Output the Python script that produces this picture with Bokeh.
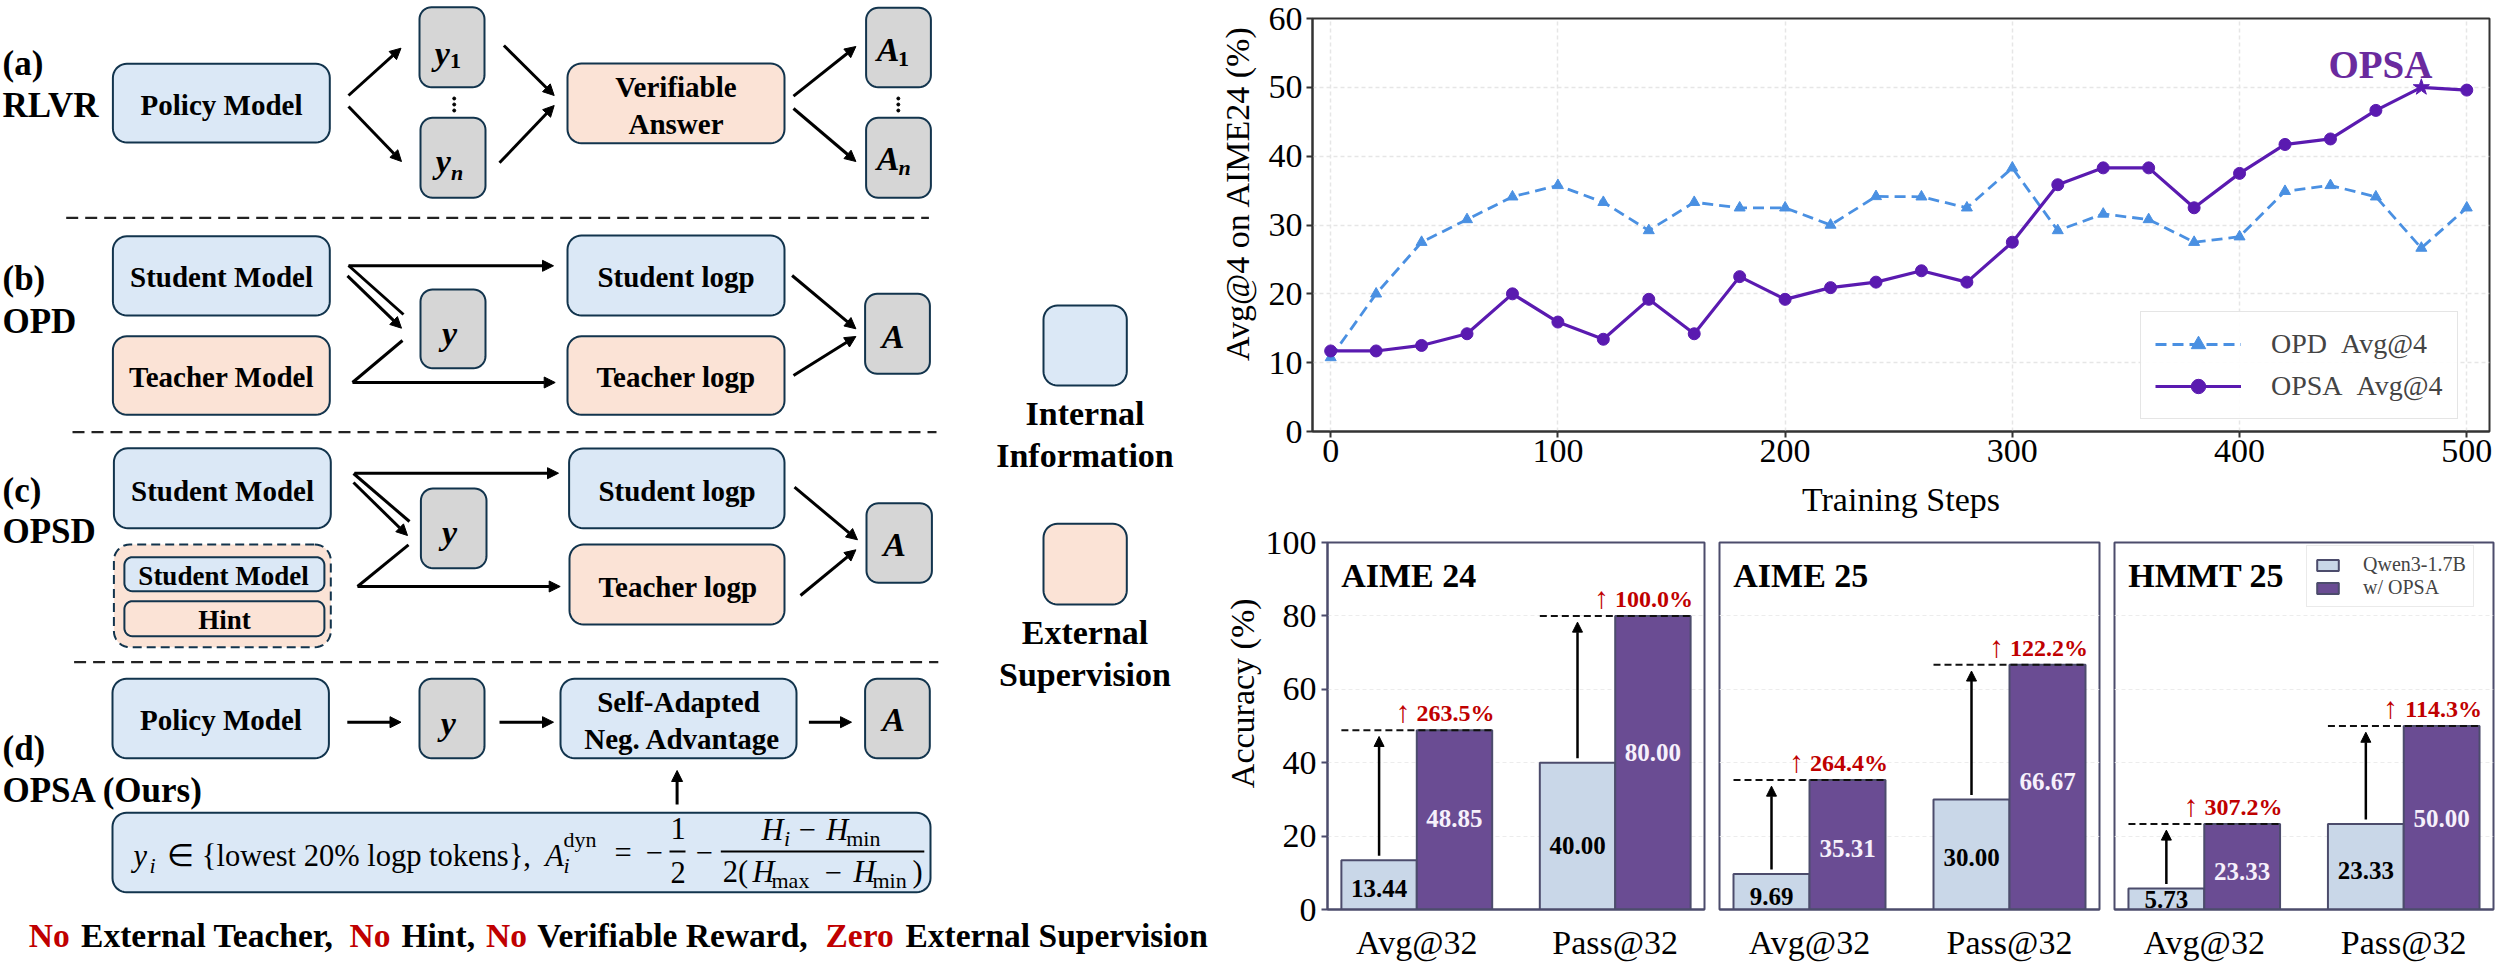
import math

import numpy as np
from bokeh.embed import file_html
from bokeh.layouts import column, row
from bokeh.models import Arrow, FixedTicker, Legend, LegendItem, NormalHead, Range1d
from bokeh.plotting import figure
from bokeh.resources import INLINE

# ---------- chart data ----------
steps = [0, 20, 40, 60, 80, 100, 120, 140, 160, 180, 200, 220, 240, 260, 280, 300,
         320, 340, 360, 380, 400, 420, 440, 460, 480, 500]
opd_avg4 = [10.75, 20.0, 27.5, 30.8, 34.1, 35.75, 33.3, 29.2, 33.3, 32.5, 32.5, 30.0, 34.15,
            34.1, 32.5, 38.3, 29.2, 31.6, 30.8, 27.5, 28.3, 34.9, 35.75, 34.1, 26.65, 32.5]
opsa_avg4 = [11.7, 11.7, 12.5, 14.2, 20.0, 15.9, 13.4, 19.2, 14.2, 22.5, 19.2, 20.9, 21.7,
             23.35, 21.7, 27.5, 35.85, 38.3, 38.3, 32.5, 37.5, 41.7, 42.5, 46.65, 50.0, 49.6]
opsa_markers = ["circle"] * 24 + ["star", "circle"]

metrics = ["Avg@32", "Pass@32"]
panel_titles = ["AIME 24", "AIME 25", "HMMT 25"]
qwen_values = [[13.44, 40.00], [9.69, 30.00], [5.73, 23.33]]
opsa_values = [[48.85, 80.00], [35.31, 66.67], [23.33, 50.00]]
gains = [["263.5%", "100.0%"], ["264.4%", "122.2%"], ["307.2%", "114.3%"]]
qwen_label_y = [[5.7, 17.4], [3.6, 14.3], [2.8, 10.65]]
opsa_label_y = [[24.8, 42.7], [16.5, 35.0], [10.4, 24.8]]

# ---------- styles ----------
SERIF = "Liberation Serif"
BLUE, PEACH, GREY = "#dbe8f6", "#fbe3d6", "#d6d6d6"
EDGE = "#12344d"
RED = "#c00000"
OPD_C, OPSA_C = "#4a90e2", "#5a1ab0"
BAR_L, BAR_D, BAR_E = "#c9d7e8", "#6a4c93", "#4c4c6c"

# ---------- diagram geometry (page pixels) ----------
boxes = [
    (112.4, 329.3, 63.3, 142, BLUE, 14), (419, 484, 6.7, 86.7, GREY, 12), (420, 485, 117.3, 197.3, GREY, 12),
    (567, 784, 63, 142.7, PEACH, 14), (865.6, 930.4, 7.3, 86.7, GREY, 12), (865.6, 930.4, 117.3, 197.3, GREY, 12),
    (112.4, 329.3, 235.7, 315, BLUE, 14), (112.4, 329.3, 335.7, 414.3, PEACH, 14), (420, 485, 289, 367.7, GREY, 12),
    (567, 784, 235, 315, BLUE, 14), (567, 784, 335.7, 414.3, PEACH, 14), (864.6, 929.4, 293.3, 373.3, GREY, 12),
    (113.4, 330.3, 447.7, 527.7, BLUE, 14), (420.4, 486, 488, 567.7, GREY, 12),
    (568.6, 784, 448, 527.7, BLUE, 14), (569, 784, 544, 624, PEACH, 14), (866, 931.4, 502.7, 582.3, GREY, 12),
    (123.9, 323.9, 556.7, 590.7, BLUE, 8), (123.9, 323.9, 600.7, 635.7, PEACH, 8),
    (112, 328.4, 678.3, 757.7, BLUE, 14), (419, 484, 678.3, 757.7, GREY, 12), (560, 796, 678.3, 757.7, BLUE, 14),
    (864.6, 929.3, 678.3, 757.7, GREY, 12), (112, 930, 812.3, 891.7, BLUE, 14),
    (1043, 1126.3, 305, 385, BLUE, 14), (1043, 1126.3, 523.3, 604, PEACH, 14),
]
container = (113.4, 330.3, 544, 646.7, PEACH, 16)
dividers = [(65.7, 928.4, 217.3), (72, 936, 431.7), (73.6, 937.8, 661.7)]
arrows = [
    (348, 95, 400.5, 47.7), (348, 106, 401, 161), (503.4, 45, 553.7, 95), (499, 162.3, 553.7, 105),
    (793, 95.7, 855.4, 46), (793, 108, 855.4, 161),
    (348, 265.3, 553, 265.3), (347, 275.3, 401, 327.7), (352, 382, 554.7, 382),
    (791.6, 275, 855.4, 328.3), (793, 375, 855.4, 336),
    (354, 472.7, 558, 472.7), (353, 482, 407, 535), (357, 586, 559.7, 586),
    (794, 486.7, 857, 539.3), (800, 595, 855.4, 549.3),
    (346.8, 721.7, 400.5, 721.7), (499, 721.7, 553, 721.7), (808.4, 721.7, 851, 721.7), (676.6, 804, 676.6, 770),
]
plain_lines = [(348, 265, 403, 314), (352, 382, 402, 340), (353, 473, 409, 521), (357, 586, 408, 544.3),
               (669, 851, 685, 851), (720.3, 851, 923.8, 851)]
vdots = [(453.7, 98), (453.7, 104), (453.7, 110), (897.8, 98), (897.8, 104), (897.8, 110)]

box_labels = [
    ("Policy Model", 221, 104), ("Verifiable", 675.5, 86), ("Answer", 675.5, 123),
    ("Student Model", 221, 276.7), ("Teacher Model", 221, 376.7), ("Student logp", 675.5, 276.7), ("Teacher logp", 675.5, 376.7),
    ("Student Model", 222, 490), ("Student logp", 676.5, 490), ("Teacher logp", 677.5, 586),
    ("Policy Model", 220.4, 719.3), ("Self-Adapted", 678, 701.7), ("Neg. Advantage", 682, 738.3),
]
small_labels = [("Student Model", 223, 575), ("Hint", 224, 619)]
row_labels = [
    ("(a)", 63), ("RLVR", 105), ("(b)", 278), ("OPD", 320.7), ("(c)", 490), ("OPSD", 530.7), ("(d)", 747.7), ("OPSA (Ours)", 790),
]
key_labels = [("Internal", 413.3), ("Information", 455), ("External", 631.7), ("Supervision", 674)]
var_labels = [("y", 441.8, 52.7), ("y", 442.8, 161), ("y", 449, 332.7), ("y", 449, 531.7), ("y", 447.7, 722.7),
              ("A", 887.5, 49.3), ("A", 887.5, 158.3), ("A", 892.6, 336), ("A", 894, 544.3), ("A", 893, 719)]
var_subs = [("1", 455, 60, "bold"), ("n", 456.7, 172, "bold italic"), ("1", 903, 58, "bold"), ("n", 904, 167, "bold italic")]
bottom_line = [("No", 28.3, RED), ("External Teacher,", 80.6, "black"), ("No", 349, RED), ("Hint,", 401, "black"), ("No", 485.5, RED),
               ("Verifiable Reward,", 536.8, "black"), ("Zero", 825, RED), ("External Supervision", 905, "black")]
formula_big = [("y", 133, 855, "italic"), ("A", 544.8, 855, "italic"), ("H", 761, 829, "italic"), ("H", 825.8, 829, "italic"),
               ("H", 752, 871.7, "italic"), ("H", 853, 871.7, "italic"), ("2(", 722.3, 871.7, "normal"), (")", 912, 871.7, "normal"),
               ("\u2208 {lowest 20% logp tokens},", 166.7, 855, "normal"), ("1", 670, 828, "normal"), ("2", 670, 871.7, "normal"),
               ("=", 614, 852, "normal"), ("\u2212", 645, 852, "normal"), ("\u2212", 695, 852, "normal"),
               ("\u2212", 798, 829, "normal"), ("\u2212", 824, 871.7, "normal")]
formula_sub = [("i", 149, 865, "italic"), ("i", 563, 865, "italic"), ("dyn", 563, 839, "normal"), ("i", 783.5, 838, "italic"),
               ("min", 845.7, 838, "normal"), ("max", 771, 880, "normal"), ("min", 872, 880, "normal")]


def rounded(x0, x1, y0, y1, r):
    t = np.linspace(0, np.pi / 2, 10)
    xs = np.concatenate([x1 - r + r * np.sin(t), x1 - r + r * np.cos(t), x0 + r - r * np.sin(t), x0 + r - r * np.cos(t)])
    ys = np.concatenate([y0 + r - r * np.cos(t), y1 - r + r * np.sin(t), y1 - r + r * np.cos(t), y0 + r - r * np.sin(t)])
    return xs, ys


def draw_arrow(p, x0, y0, x1, y1, width=3.0, size=11):
    head = NormalHead(size=size, fill_color="black", line_color="black", line_width=1)
    p.add_layout(Arrow(end=head, x_start=x0, y_start=y0, x_end=x1, y_end=y1, line_color="black", line_width=width))


def title_strip(text, width, height, x, y):
    s = figure(width=width, height=height, x_range=Range1d(0, width), y_range=Range1d(height, 0), x_axis_type=None, y_axis_type=None,
               output_backend="svg", toolbar_location=None, min_border=0, outline_line_color=None)
    s.grid.visible = False
    s.text([x], [y], text=[text], angle=math.pi / 2, text_font=SERIF, text_font_size="34px", text_color="black",
           text_align="center", text_baseline="middle")
    return s


# ---------- diagram ----------
diagram = figure(width=1217, height=963, x_range=Range1d(0, 1217), y_range=Range1d(963, 0), x_axis_type=None, y_axis_type=None,
                 output_backend="svg", toolbar_location=None, min_border=0, outline_line_color=None)
diagram.grid.visible = False
cx0, cx1, cy0, cy1, cfill, cr = container
xs, ys = rounded(cx0, cx1, cy0, cy1, cr)
diagram.patch(xs, ys, fill_color=cfill, line_color=EDGE, line_width=2, line_dash=[9, 5])
for x0, x1, y0, y1, fill, r in boxes:
    xs, ys = rounded(x0, x1, y0, y1, r)
    diagram.patch(xs, ys, fill_color=fill, line_color=EDGE, line_width=2)
for x0, x1, y in dividers:
    diagram.line([x0, x1], [y, y], line_color="#222222", line_width=2.2, line_dash=[12, 7])
for a in arrows:
    draw_arrow(diagram, *a)
for x0, y0, x1, y1 in plain_lines[:4]:
    diagram.line([x0, x1], [y0, y1], line_color="black", line_width=3)
for x0, y0, x1, y1 in plain_lines[4:]:
    diagram.line([x0, x1], [y0, y1], line_color="black", line_width=2)
diagram.scatter([v[0] for v in vdots], [v[1] for v in vdots], size=3, color="black")


def put(p, items, size, style="bold", align="center", color="black"):
    p.text([i[1] for i in items], [i[2] for i in items], text=[i[0] for i in items], text_font=SERIF, text_font_size=size,
           text_font_style=style, text_align=align, text_baseline="middle", text_color=color)


put(diagram, box_labels, "29px")
put(diagram, small_labels, "27px")
put(diagram, [(t, 2, y) for t, y in row_labels], "35px", align="left")
put(diagram, [(t, 1084.5, y) for t, y in key_labels], "34px")
put(diagram, var_labels, "34px", style="bold italic")
for t, x, y, st in var_subs:
    put(diagram, [(t, x, y)], "22px", style=st)
for t, x, c in bottom_line:
    put(diagram, [(t, x, 935)], "33.5px", align="left", color=c)
for t, x, y, st in formula_big:
    put(diagram, [(t, x, y)], "30.5px", style=st, align="left")
for t, x, y, st in formula_sub:
    put(diagram, [(t, x, y)], "22px", style=st, align="left")

# ---------- line chart ----------
line_fig = figure(width=1249, height=520, x_range=Range1d(-8, 510), y_range=Range1d(0, 60), output_backend="svg", toolbar_location=None,
                  min_border_left=54, min_border_right=18, min_border_top=18, min_border_bottom=89,
                  x_axis_label="Training Steps",
                  outline_line_color="#333333", outline_line_width=2)
for ax in (line_fig.xaxis[0], line_fig.yaxis[0]):
    ax.major_label_text_font = SERIF
    ax.major_label_text_font_size = "34px"
    ax.axis_label_text_font = SERIF
    ax.axis_label_text_font_size = "34px"
    ax.axis_label_text_font_style = "normal"
    ax.axis_line_color = "#333333"
    ax.axis_line_width = 2
    ax.major_tick_line_color = "#333333"
    ax.major_tick_line_width = 2
    ax.major_tick_out = 6
    ax.major_tick_in = 0
    ax.minor_tick_line_color = None
    ax.major_label_text_color = "black"
    ax.axis_label_text_color = "black"
line_fig.xaxis.ticker = FixedTicker(ticks=[0, 100, 200, 300, 400, 500])
line_fig.yaxis.ticker = FixedTicker(ticks=[0, 10, 20, 30, 40, 50, 60])
line_fig.xaxis.major_label_standoff = 2
line_fig.xaxis.axis_label_standoff = 16
line_fig.yaxis.major_label_standoff = 4
line_fig.grid.grid_line_color = "#e6e6e6"
line_fig.grid.grid_line_dash = [4, 3]
line_fig.grid.grid_line_width = 1.5
opd_l = line_fig.line(steps, opd_avg4, line_color=OPD_C, line_width=2.8, line_dash=[11, 6])
opd_s = line_fig.scatter(steps, opd_avg4, marker="triangle", size=11, color=OPD_C)
opsa_l = line_fig.line(steps, opsa_avg4, line_color=OPSA_C, line_width=3.2)
opsa_s = line_fig.scatter(steps, opsa_avg4, marker=opsa_markers, size=[17 if m == "star" else 12 for m in opsa_markers], color=OPSA_C)
line_fig.text([462], [53.3], text=["OPSA"], text_font=SERIF, text_font_size="39px", text_font_style="bold", text_color="#6a2a9e",
              text_align="center", text_baseline="middle")
line_fig.add_layout(Legend(
    items=[LegendItem(label="OPD\u00a0\u00a0Avg@4", renderers=[opd_l, opd_s]), LegendItem(label="OPSA\u00a0\u00a0Avg@4", renderers=[opsa_l, opsa_s])],
    location=(828, 12), margin=0, padding=14, spacing=6, glyph_width=86, glyph_height=36, label_standoff=30,
    label_text_font=SERIF, label_text_font_size="28px", border_line_color="#cccccc", border_line_width=1.5,
    background_fill_alpha=0.9, label_height=36))


# ---------- bar panels ----------
def bar_panel(i, width, left, right):
    p = figure(width=width, height=443, x_range=Range1d(-0.45, 1.45), y_range=Range1d(0, 100), output_backend="svg", toolbar_location=None,
               min_border_left=left, min_border_right=right, min_border_top=22, min_border_bottom=52,
               outline_line_color=BAR_E, outline_line_width=2)
    p.xgrid.visible = False
    p.ygrid.ticker = FixedTicker(ticks=[20, 40, 60, 80])
    p.ygrid.grid_line_color = "#ececec"
    p.ygrid.grid_line_dash = [4, 3]
    p.ygrid.grid_line_width = 1.2
    xa = p.xaxis[0]
    xa.ticker = FixedTicker(ticks=[0, 1])
    xa.major_label_overrides = {0: metrics[0], 1: metrics[1]}
    xa.major_label_text_font = SERIF
    xa.major_label_text_font_size = "34px"
    xa.major_label_text_color = "black"
    xa.major_label_standoff = 8
    xa.major_tick_line_color = None
    xa.minor_tick_line_color = None
    xa.axis_line_color = BAR_E
    xa.axis_line_width = 2
    ya = p.yaxis[0]
    if i == 0:
        ya.ticker = FixedTicker(ticks=[0, 20, 40, 60, 80, 100])
        ya.major_label_text_font = SERIF
        ya.major_label_text_font_size = "34px"
        ya.major_label_text_color = "black"
        ya.major_label_standoff = 5
        ya.major_tick_out = 6
        ya.major_tick_in = 0
        ya.major_tick_line_color = BAR_E
        ya.major_tick_line_width = 2
        ya.minor_tick_line_color = None
        ya.axis_line_color = BAR_E
        ya.axis_line_width = 2
    else:
        ya.visible = False
    q = qwen_values[i]
    o = opsa_values[i]
    r1 = p.vbar([-0.19, 0.81], top=q, width=0.38, fill_color=BAR_L, line_color=BAR_E, line_width=2)
    r2 = p.vbar([0.19, 1.19], top=o, width=0.38, fill_color=BAR_D, line_color=BAR_E, line_width=2)
    for k in range(2):
        p.line([k - 0.38, k + 0.38], [o[k], o[k]], line_color="#111111", line_width=2, line_dash=[7, 4])
        draw_arrow(p, k - 0.19, q[k] + 1.2, k - 0.19, o[k] - 1.7, width=2.5, size=10)
    p.text([-0.19, 0.81], qwen_label_y[i], text=[f"{v:.2f}" for v in q], text_font=SERIF, text_font_size="25px", text_font_style="bold",
           text_align="center", text_baseline="middle", text_color="black")
    p.text([0.19, 1.19], opsa_label_y[i], text=[f"{v:.2f}" for v in o], text_font=SERIF, text_font_size="25px", text_font_style="bold",
           text_align="center", text_baseline="middle", text_color="#f6f0fb")
    p.text([0.392, 1.392], o, text=gains[i], text_font=SERIF, text_font_size="24px", text_font_style="bold",
           text_align="right", text_baseline="bottom", text_color=RED, y_offset=-4)
    p.text([0.392, 1.392], o, text=["\u2191", "\u2191"], text_font=SERIF, text_font_size="30px", text_font_style="normal",
           text_align="right", text_baseline="bottom", text_color=RED, y_offset=-2, x_offset=-84)
    p.text([-0.381], [91], text=[panel_titles[i]], text_font=SERIF, text_font_size="34px", text_font_style="bold",
           text_align="left", text_baseline="middle", text_color="black")
    if i == 2:
        p.add_layout(Legend(
            items=[LegendItem(label="Qwen3-1.7B", renderers=[r1]), LegendItem(label="w/ OPSA", renderers=[r2])],
            location=(192, 302), margin=0, padding=7, spacing=0, glyph_width=27, glyph_height=14, label_standoff=22,
            label_text_font=SERIF, label_text_font_size="20px", border_line_color="#d5d5d5", border_line_width=1.5, label_height=19))
    return p


b1 = bar_panel(0, 449, 63, 7)
b2 = bar_panel(1, 395, 8, 7)
b3 = bar_panel(2, 401, 8, 14)
strip_top = title_strip("Avg@4 on AIME24 (%)", 41, 520, 19.5, 220)
strip_bottom = title_strip("Accuracy (%)", 45, 443, 24.5, 182)

top_row = row(strip_top, line_fig, spacing=0)
bottom_row = row(strip_bottom, b1, b2, b3, spacing=0)
page = row(diagram, column(top_row, bottom_row, spacing=0), spacing=0)
open("out.html", "w").write(file_html(page, INLINE))
